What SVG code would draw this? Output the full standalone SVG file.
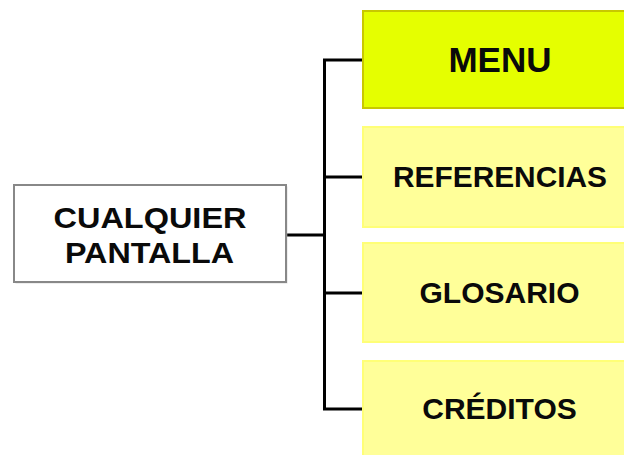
<svg xmlns="http://www.w3.org/2000/svg" width="624" height="455" viewBox="0 0 624 455">
<style>
.t{font-family:"Liberation Sans",Arial,sans-serif;font-weight:bold;fill:#0a0a0a;text-anchor:middle}
.sub{fill:#ffff99;stroke:#ffff77;stroke-width:2}
.conn{fill:none;stroke:#000;stroke-width:3}
</style>
<rect width="624" height="455" fill="#fff"/>
<g id="connectors">
<path class="conn" d="M286,235 H324.5 M362,60 H324.5 V409 H362 M324.5,177 H362 M324.5,293 H362"/>
</g>
<g id="cualquier">
<rect x="15.5" y="186.5" width="272" height="97" fill="#bbb" opacity="0.5"/>
<rect x="14" y="185" width="272" height="97" fill="#fff" stroke="#888" stroke-width="2"/>
<text class="t" x="150" y="228" font-size="30" textLength="193" lengthAdjust="spacingAndGlyphs">CUALQUIER</text>
<text class="t" x="149.5" y="263" font-size="30" textLength="169" lengthAdjust="spacingAndGlyphs">PANTALLA</text>
</g>
<g id="menu">
<rect x="363" y="11" width="270" height="97" fill="#e5ff00" stroke="#c8c800" stroke-width="2"/>
<text class="t" x="500" y="72" font-size="35">MENU</text>
</g>
<g id="referencias">
<rect class="sub" x="363" y="127" width="270" height="100"/>
<text class="t" x="500" y="187" font-size="30" textLength="214" lengthAdjust="spacingAndGlyphs">REFERENCIAS</text>
</g>
<g id="glosario">
<rect class="sub" x="363" y="243" width="270" height="99"/>
<text class="t" x="499.5" y="303" font-size="30">GLOSARIO</text>
</g>
<g id="creditos">
<rect class="sub" x="363" y="361" width="270" height="100"/>
<text class="t" x="499.5" y="419" font-size="30">CRÉDITOS</text>
</g>
</svg>
